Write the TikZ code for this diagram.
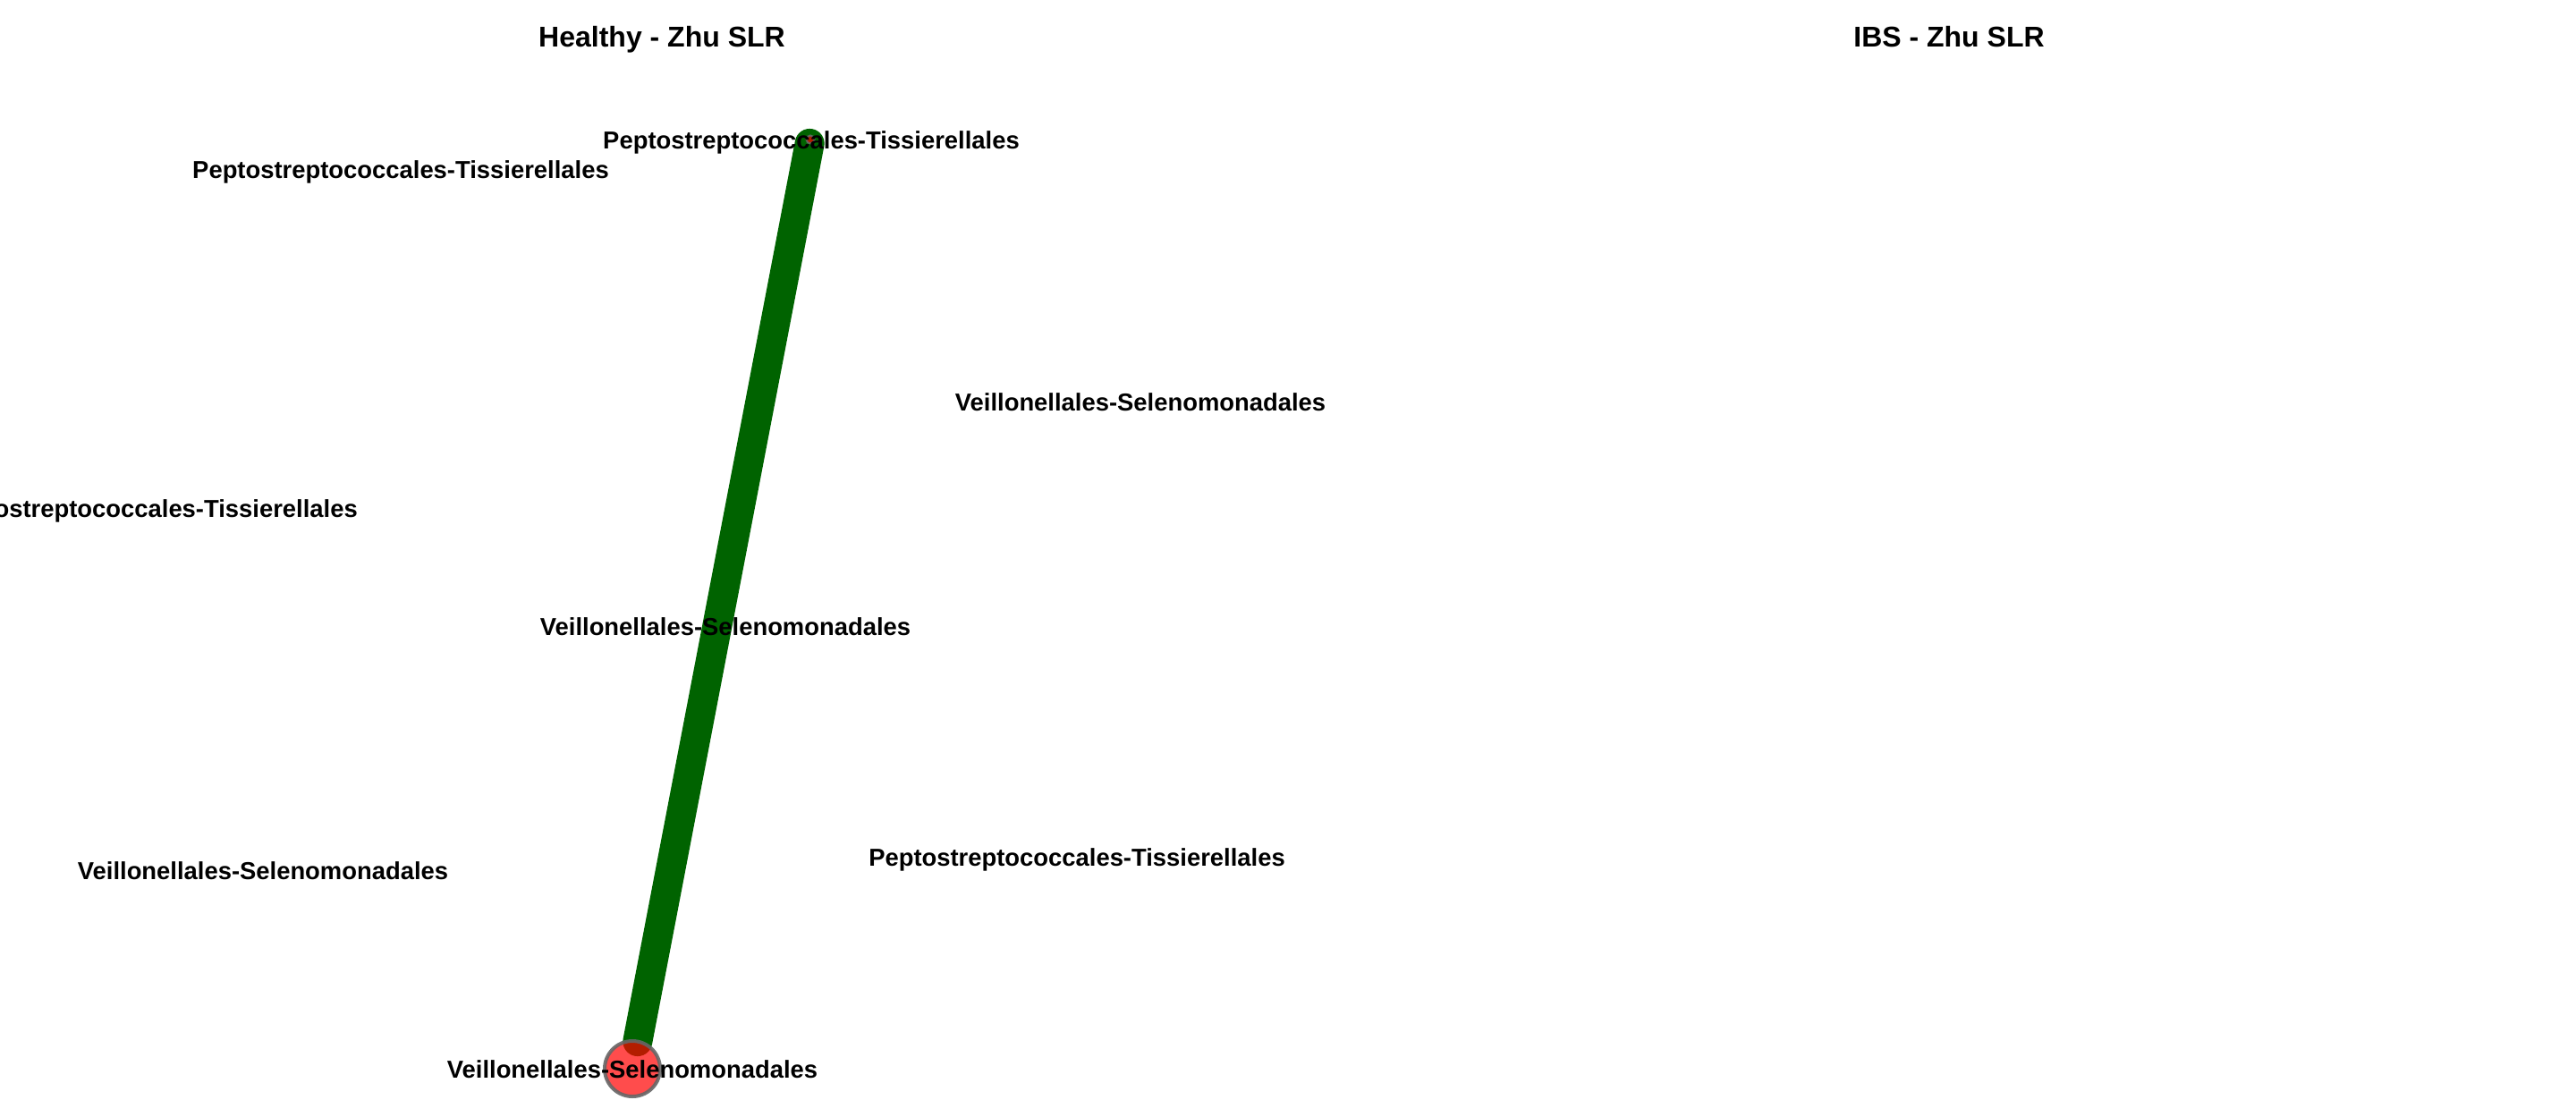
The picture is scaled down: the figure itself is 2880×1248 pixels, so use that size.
\documentclass[tikz,border=0pt]{standalone}
\usepackage{fontspec}
\setmainfont{Liberation Sans}
\begin{document}
\begin{tikzpicture}[x=1pt,y=-1pt,
  lbl/.style={anchor=base,inner sep=0pt,font=\bfseries\fontsize{27.4}{32}\selectfont},
  ttl/.style={anchor=base,inner sep=0pt,font=\bfseries\fontsize{32}{38}\selectfont},
  vshape/.style={circle,inner sep=0pt,outer sep=0pt},
  vtx/.style={vshape,fill=red,fill opacity=0.7,draw=black!60,draw opacity=0.9},
  edg/.style={draw=green!39!black,line width=33pt,line cap=round}]
\useasboundingbox (0,0) rectangle (2880,1248);
\fill[white] (0,0) rectangle (2880,1248);
% vertex anchors (invisible), the edge, then the visible vertices on top
\node[vshape,minimum size=9pt] (vtop) at (906,156) {};
\node[vshape,minimum size=62pt] (vbot) at (707,1195) {};
\path[edg] (vtop) -- (vbot);
\node[vtx,minimum size=9pt,line width=2pt] (vtopc) at (vtop.center) {};
\node[vtx,minimum size=62pt,line width=4pt] (vbotc) at (vbot.center) {};
% titles
\node[ttl] (t1) at (740,52) {Healthy - Zhu SLR};
\node[ttl] (t2) at (2179,52) {IBS - Zhu SLR};
% labels
\node[lbl] (l1) at (448,199) {Peptostreptococcales-Tissierellales};
\node[lbl] (l2) at (907,166) {Peptostreptococcales-Tissierellales};
\node[lbl] (l3) at (1275,459) {Veillonellales-Selenomonadales};
\node[lbl] (l4) at (167,578) {Peptostreptococcales-Tissierellales};
\node[lbl] (l5) at (811,710) {Veillonellales-Selenomonadales};
\node[lbl] (l6) at (294,983) {Veillonellales-Selenomonadales};
\node[lbl] (l7) at (1204,968) {Peptostreptococcales-Tissierellales};
\node[lbl] (l8) at (707,1205) {Veillonellales-Selenomonadales};
\end{tikzpicture}
\end{document}
